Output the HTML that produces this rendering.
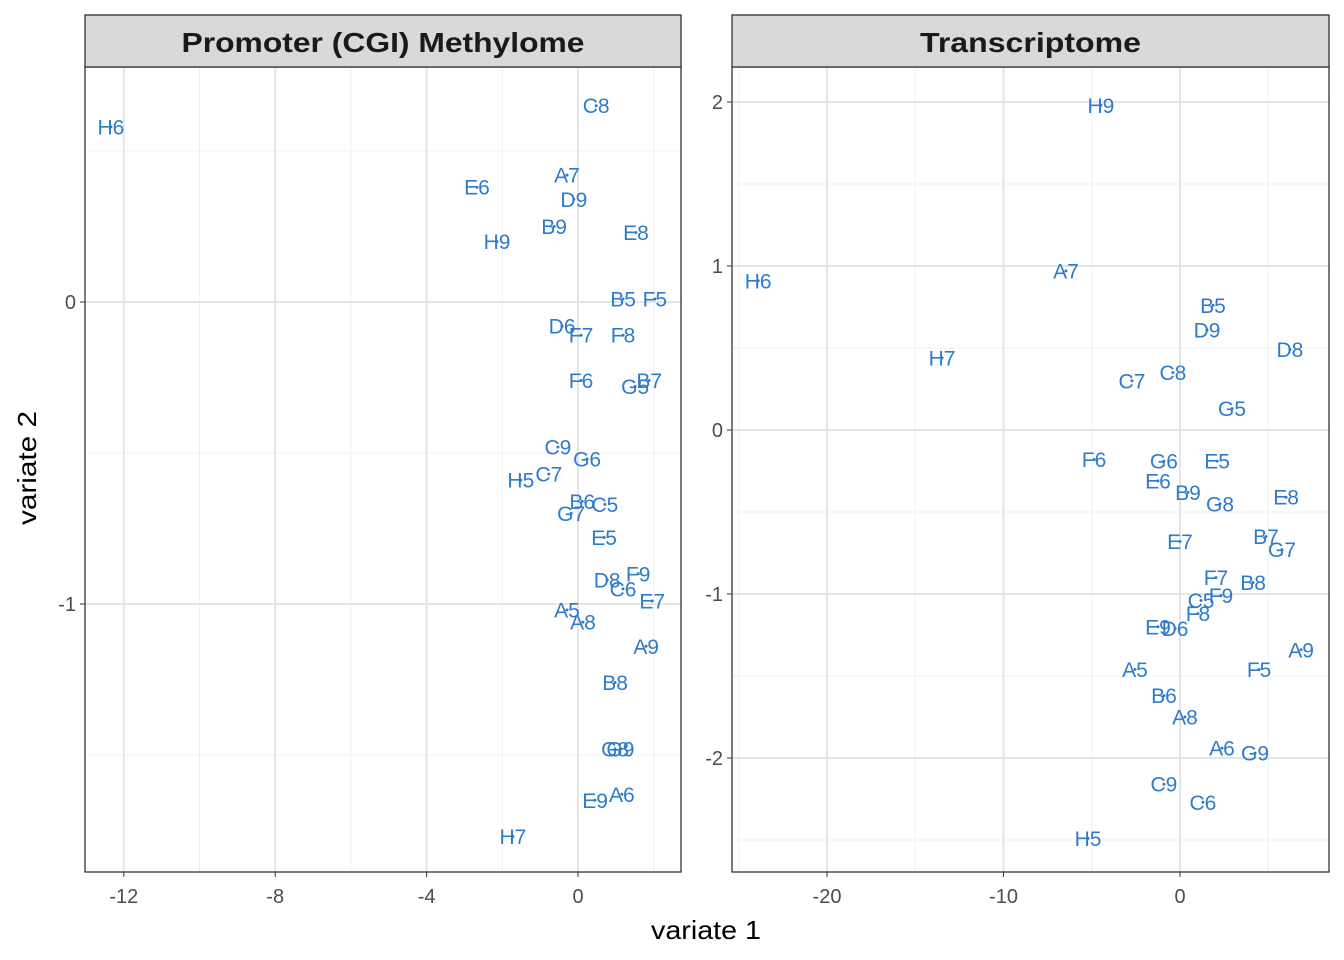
<!DOCTYPE html>
<html><head><meta charset="utf-8"><style>
body{margin:0;background:#fff;}
svg{display:block;font-family:"Liberation Sans",Arial,sans-serif;}
</style></head><body>
<svg id="chart" width="1344" height="960"></svg>
<script>
const leftLabels=["H6","C8","A7","E6","D9","B9","H9","E8","B5","F5","D6","F7","F8","F6","G5","B7","C9","G6","C7","H5","B6","C5","G7","E5","F9","D8","C6","E7","A5","A8","A9","B8","G8","G9","A6","E9","H7"];
const leftX=[-12.34,0.48,-0.29,-2.67,-0.11,-0.63,-2.14,1.53,1.19,2.03,-0.42,0.08,1.19,0.08,1.51,1.88,-0.53,0.24,-0.77,-1.51,0.11,0.71,-0.18,0.69,1.59,0.77,1.19,1.96,-0.29,0.13,1.8,0.98,0.98,1.12,1.16,0.45,-1.72];
const leftY=[0.58,0.65,0.42,0.38,0.34,0.25,0.2,0.23,0.01,0.01,-0.08,-0.11,-0.11,-0.26,-0.28,-0.26,-0.48,-0.52,-0.57,-0.59,-0.66,-0.67,-0.7,-0.78,-0.9,-0.92,-0.95,-0.99,-1.02,-1.06,-1.14,-1.26,-1.48,-1.48,-1.63,-1.65,-1.77];
const rightLabels=["H9","H6","A7","B5","D9","D8","H7","C8","C7","G5","F6","G6","E5","E6","B9","G8","E8","B7","G7","E7","F7","B8","F9","C5","F8","E9","D6","A9","A5","F5","B6","A8","A6","G9","C9","C6","H5"];
const rightX=[-4.48,-23.9,-6.46,1.87,1.53,6.23,-13.48,-0.4,-2.72,2.95,-4.87,-0.91,2.1,-1.25,0.45,2.27,6.01,4.87,5.78,0,2.04,4.14,2.32,1.19,1.02,-1.25,-0.28,6.86,-2.55,4.48,-0.91,0.28,2.38,4.25,-0.91,1.3,-5.21];
const rightY=[1.98,0.91,0.97,0.76,0.61,0.49,0.44,0.35,0.3,0.13,-0.18,-0.19,-0.19,-0.31,-0.38,-0.45,-0.41,-0.65,-0.73,-0.68,-0.9,-0.93,-1.01,-1.04,-1.12,-1.2,-1.21,-1.34,-1.46,-1.46,-1.62,-1.75,-1.94,-1.97,-2.16,-2.27,-2.49];
const leftXTicks=[-12,-8,-4,0], leftXMinor=[-10,-6,-2,2], leftYTicks=[0,-1], leftYMinor=[0.5,-0.5,-1.5];
const rightXTicks=[-20,-10,0], rightXMinor=[-25,-15,-5,5], rightYTicks=[2,1,0,-1,-2], rightYMinor=[1.5,0.5,-0.5,-1.5,-2.5];
const NS="http://www.w3.org/2000/svg", svg=document.getElementById('chart');
function mk(t,a,p){const e=document.createElementNS(NS,t);for(const k in a)e.setAttribute(k,a[k]);(p||svg).appendChild(e);return e;}
function panel(o){
  const g=mk('g',{});
  
  
  const sx=v=>o.x0+(v-o.vx0)*o.kx, sy=v=>o.y0-(v-o.vy0)*o.ky;
  mk('rect',{x:o.L,y:67,width:o.R-o.L,height:805,fill:'#fff'},g);
  o.xm.forEach(v=>{const l=mk('line',{x1:sx(v),x2:sx(v),y1:67,y2:872,stroke:'#f0f0f0','stroke-width':1},g);});
  o.ym.forEach(v=>{const l=mk('line',{x1:o.L,x2:o.R,y1:sy(v),y2:sy(v),stroke:'#f0f0f0','stroke-width':1},g);});
  o.xt.forEach(v=>{const l=mk('line',{x1:sx(v),x2:sx(v),y1:67,y2:872,stroke:'#e5e5e5','stroke-width':2},g);
    mk('line',{x1:sx(v),x2:sx(v),y1:872,y2:877,stroke:'#333','stroke-width':1},g);
    const t=mk('text',{x:sx(v),y:903,'text-anchor':'middle','font-size':20,fill:'#4d4d4d'},g);t.textContent=v;});
  o.yt.forEach(v=>{const l=mk('line',{x1:o.L,x2:o.R,y1:sy(v),y2:sy(v),stroke:'#e5e5e5','stroke-width':2},g);
    mk('line',{x1:o.L-5,x2:o.L,y1:sy(v),y2:sy(v),stroke:'#333','stroke-width':1},g);
    const t=mk('text',{x:o.L-9,y:sy(v)+7,'text-anchor':'end','font-size':20,fill:'#4d4d4d'},g);t.textContent=v;});
  o.labels.forEach((lab,i)=>{const px=sx(o.xs[i]),py=sy(o.ys[i]);
    const c=mk('circle',{cx:px,cy:py,r:1.5,fill:'#2f7bcb'},g);
    const t=mk('text',{x:px,y:py+7.5,'text-anchor':'middle','font-size':21,fill:'#2f7bcb'},g);t.textContent=lab;});
  const b=mk('rect',{x:o.L,y:67,width:o.R-o.L,height:805,fill:'none',stroke:'#333','stroke-width':1.3},g);
  const s=mk('rect',{x:o.L,y:15,width:o.R-o.L,height:52,fill:'#d9d9d9',stroke:'#333','stroke-width':1.3},g);
  const st=mk('text',{x:(o.L+o.R)/2,y:52,'text-anchor':'middle','font-size':28,'font-weight':'bold',fill:'#1a1a1a',textLength:o.tl,lengthAdjust:'spacingAndGlyphs'},g);st.textContent=o.title;
}
panel({name:'methylome-panel',title:'Promoter (CGI) Methylome',tl:403,L:85,R:681,x0:578,vx0:0,kx:37.85,y0:302,vy0:0,ky:302,xt:leftXTicks,xm:leftXMinor,yt:leftYTicks,ym:leftYMinor,labels:leftLabels,xs:leftX,ys:leftY});
panel({name:'transcriptome-panel',title:'Transcriptome',tl:221,L:732,R:1329,x0:1180,vx0:0,kx:17.65,y0:430,vy0:0,ky:164,xt:rightXTicks,xm:rightXMinor,yt:rightYTicks,ym:rightYMinor,labels:rightLabels,xs:rightX,ys:rightY});
const xt=mk('text',{x:706,y:939,'text-anchor':'middle','font-size':26,fill:'#000',textLength:110,lengthAdjust:'spacingAndGlyphs'});xt.textContent='variate 1';


const yt=mk('text',{x:0,y:0,'text-anchor':'middle','font-size':26,fill:'#000',textLength:114,lengthAdjust:'spacingAndGlyphs',transform:'translate(36,468) rotate(-90)'});yt.textContent='variate 2';


</script>
</body></html>
